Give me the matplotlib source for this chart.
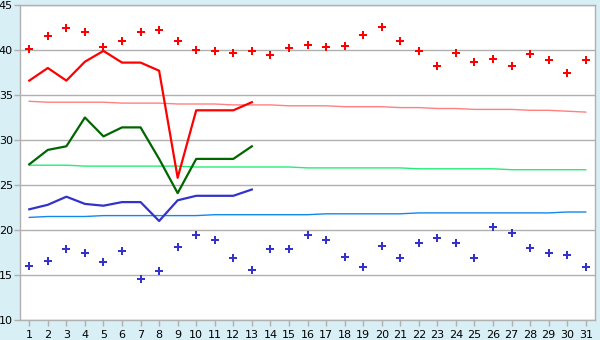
import matplotlib
matplotlib.use("Agg")
from matplotlib import pyplot as plt

days = list(range(1, 32))

# daily max / min (points)
max_daily = [40.1, 41.6, 42.5, 42.0, 40.3, 41.0, 42.0, 42.2, 41.0, 40.0,
             39.9, 39.7, 39.9, 39.5, 40.2, 40.6, 40.3, 40.5, 41.7, 42.6,
             41.0, 39.9, 38.2, 39.7, 38.7, 39.0, 38.2, 39.6, 38.9, 37.4, 38.9]
min_daily = [16.0, 16.6, 17.9, 17.5, 16.4, 17.7, 14.6, 15.4, 18.1, 19.5,
             18.9, 16.9, 15.6, 17.9, 17.9, 19.4, 18.9, 17.0, 15.9, 18.2,
             16.9, 18.6, 19.1, 18.6, 16.9, 20.3, 19.7, 18.0, 17.5, 17.2, 15.9]

# current month (first 13 days)
cur_days = days[:13]
cur_max = [36.6, 38.0, 36.6, 38.7, 39.9, 38.6, 38.6, 37.7, 25.8, 33.3, 33.3, 33.3, 34.2]
cur_avg = [27.3, 28.9, 29.3, 32.5, 30.4, 31.4, 31.4, 27.9, 24.1, 27.9, 27.9, 27.9, 29.3]
cur_min = [22.3, 22.8, 23.7, 22.9, 22.7, 23.1, 23.1, 21.0, 23.3, 23.8, 23.8, 23.8, 24.5]

# normals
norm_max = [34.3, 34.2, 34.2, 34.2, 34.2, 34.1, 34.1, 34.1, 34.0, 34.0,
            34.0, 33.9, 33.9, 33.9, 33.8, 33.8, 33.8, 33.7, 33.7, 33.7,
            33.6, 33.6, 33.5, 33.5, 33.4, 33.4, 33.4, 33.3, 33.3, 33.2, 33.1]
norm_avg = [27.2, 27.2, 27.2, 27.1, 27.1, 27.1, 27.1, 27.1, 27.1, 27.0,
            27.0, 27.0, 27.0, 27.0, 27.0, 26.9, 26.9, 26.9, 26.9, 26.9,
            26.9, 26.8, 26.8, 26.8, 26.8, 26.8, 26.7, 26.7, 26.7, 26.7, 26.7]
norm_min = [21.4, 21.5, 21.5, 21.5, 21.6, 21.6, 21.6, 21.6, 21.6, 21.6,
            21.7, 21.7, 21.7, 21.7, 21.7, 21.7, 21.8, 21.8, 21.8, 21.8,
            21.8, 21.9, 21.9, 21.9, 21.9, 21.9, 21.9, 21.9, 21.9, 22.0, 22.0]

bg = "#d9eff6"
fig = plt.figure(figsize=(6, 3.4), dpi=100, facecolor=bg)
ax = fig.add_axes([20/600, 20/340, 575/600, 315/340])
ax.set_facecolor("white")

ax.plot(days, norm_max, c="#ff8080", lw=1, zorder=2)
ax.plot(days, norm_avg, c="#22ee77", lw=1, zorder=2)
ax.plot(days, norm_min, c="#1188ee", lw=1, zorder=2)

ax.plot(cur_days, cur_max, c="#ff0000", lw=1.6, zorder=3)
ax.plot(cur_days, cur_avg, c="#006600", lw=1.6, zorder=3)
ax.plot(cur_days, cur_min, c="#3333cc", lw=1.6, zorder=3)

ax.plot(days, max_daily, ls="none", marker="P", ms=5.5, c="#ff0000", mew=0, zorder=4)
ax.plot(days, min_daily, ls="none", marker="P", ms=5.5, c="#3333cc", mew=0, zorder=4)

ax.set_xlim(0.5, 31.5)
ax.set_ylim(10, 45)
ax.set_xticks(days)
ax.set_yticks(range(10, 46, 5))
ax.yaxis.grid(True, color="#b0b0b0", lw=1)
ax.set_axisbelow(True)
for s in ax.spines.values():
    s.set_color("#b0b0b0")
    s.set_linewidth(1)
ax.tick_params(colors="#b0b0b0", labelcolor="black", labelsize=8, length=4, width=1)
ax.tick_params(axis="y", pad=1)

fig.savefig("out.png", dpi=100, facecolor=bg)
